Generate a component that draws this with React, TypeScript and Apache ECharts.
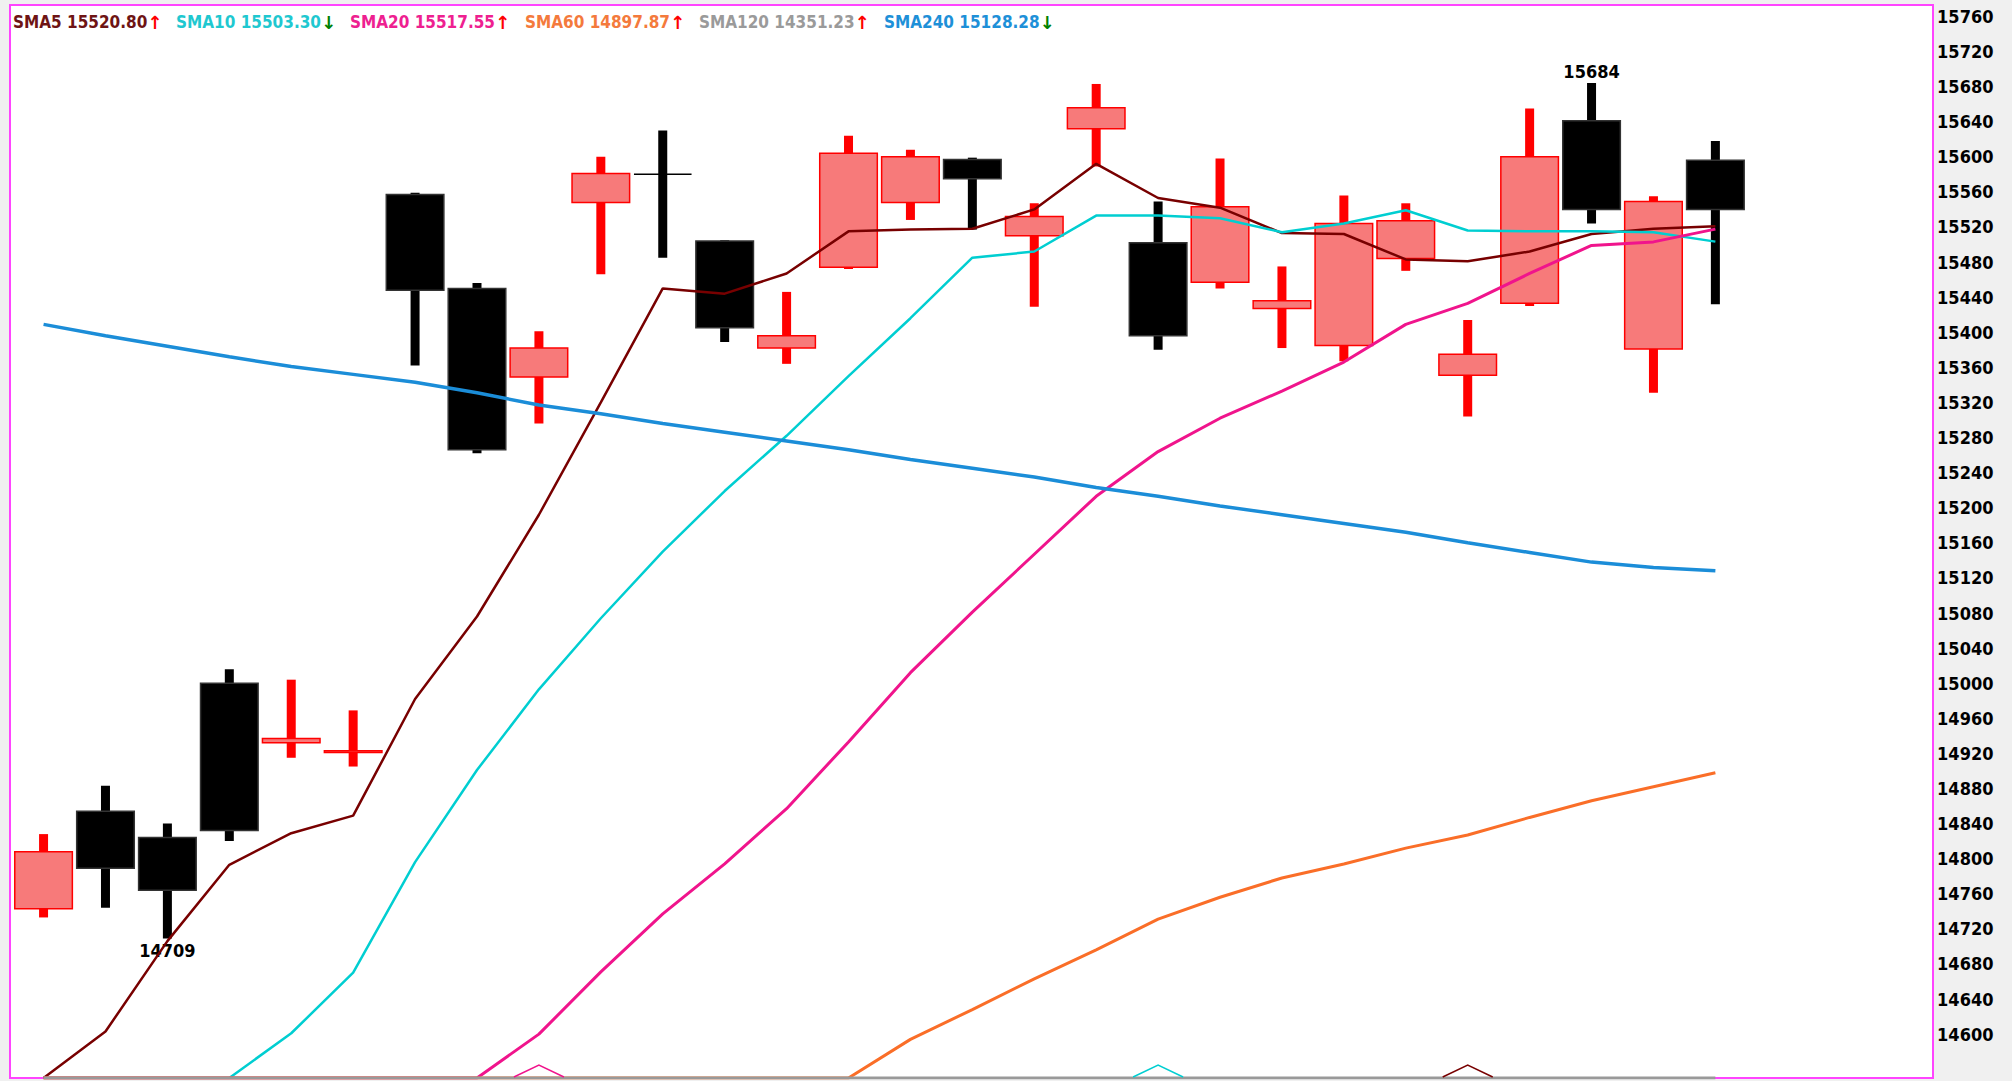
import React, { useEffect, useRef } from "react";
import * as echarts from "echarts";

// ---------- data ----------
const categories = [
  "1", "2", "3", "4", "5", "6", "7", "8", "9", "10", "11", "12", "13", "14", "15", "16",
  "17", "18", "19", "20", "21", "22", "23", "24", "25", "26", "27", "28", "29", "30", "31",
];

const openP = [14743, 14854, 14824, 15000, 14932, 14921, 15557, 15450, 15349, 15548, 15580, 15504, 15382, 15474, 15548, 15597, 15510, 15632, 15502, 15457, 15427, 15385, 15484, 15351, 15433, 15641, 15381, 15596];
const closeP = [14808, 14789, 14764, 14832, 14937, 14923, 15448, 15266, 15382, 15581, 15580, 15405, 15396, 15604, 15600, 15575, 15532, 15656, 15396, 15543, 15436, 15524, 15527, 15375, 15600, 15540, 15549, 15540];
const lowP = [14733, 14744, 14709, 14820, 14915, 14905, 15362, 15262, 15296, 15466, 15485, 15389, 15364, 15472, 15528, 15517, 15429, 15589, 15380, 15450, 15382, 15367, 15470, 15304, 15430, 15524, 15331, 15432];
const highP = [14828, 14883, 14840, 15016, 15004, 14969, 15559, 15456, 15401, 15600, 15630, 15505, 15446, 15624, 15608, 15599, 15547, 15683, 15549, 15598, 15475, 15556, 15547, 15414, 15655, 15684, 15555, 15618];

const sma5 = [14540, 14603, 14706, 14793, 14829, 14849, 14982, 15076, 15192, 15320, 15450, 15444, 15467, 15515, 15517, 15518, 15540, 15592, 15553, 15542, 15513, 15512, 15483, 15481, 15492, 15512, 15518, 15520.8];
const sma10 = [14440, 14470, 14505, 14548, 14601, 14670, 14796, 14901, 14993, 15074, 15150, 15219, 15282, 15350, 15416, 15485, 15492, 15533, 15533, 15530, 15514, 15524, 15539, 15516, 15515, 15515, 15514, 15503.3];
const sma20 = [14300, 14330, 14360, 14395, 14430, 14465, 14505, 14548, 14600, 14671, 14737, 14794, 14857, 14933, 15012, 15081, 15147, 15213, 15264, 15302, 15333, 15366, 15409, 15433, 15467, 15499, 15503, 15517.55];
const sma60 = [14200, 14225, 14250, 14275, 14300, 14325, 14350, 14380, 14410, 14440, 14470, 14495, 14520, 14548, 14594, 14628, 14663, 14696, 14731, 14756, 14778, 14794, 14812, 14827, 14847, 14866, 14882, 14897.87];
const sma120 = [14270, 14273, 14276, 14279, 14282, 14285, 14289, 14293, 14297, 14300, 14303, 14306, 14309, 14312, 14315, 14318, 14321, 14324, 14327, 14330, 14333, 14336, 14339, 14342, 14344, 14347, 14349, 14351.23];
const sma240 = [15409, 15396, 15384, 15372, 15361, 15352, 15343, 15331, 15317, 15307, 15296, 15286, 15276, 15266, 15255, 15245, 15235, 15223, 15213, 15202, 15192, 15182, 15172, 15160, 15149, 15138, 15132, 15128.28];

const yTickValues = [
  14600, 14640, 14680, 14720, 14760, 14800, 14840, 14880, 14920, 14960, 15000, 15040, 15080,
  15120, 15160, 15200, 15240, 15280, 15320, 15360, 15400, 15440, 15480, 15520, 15560, 15600,
  15640, 15680, 15720, 15760,
];

const legendNames = ["SMA5", "SMA10", "SMA20", "SMA60", "SMA120", "SMA240"];
const legendValues = ["15520.80", "15503.30", "15517.55", "14897.87", "14351.23", "15128.28"];
const legendTrend = ["up", "down", "up", "up", "up", "down"];

// bottom caret signals (category index)
const signalIdx = [8, 18, 23];

// ---------- styles ----------
const Y_MIN = 14550;
const Y_MAX = 15773;
const FONT = "'DejaVu Sans Condensed', 'Liberation Sans Narrow', sans-serif";
const lineColors = ["#780000", "#00CED1", "#F0148C", "#FA6E28", "#999999", "#1B8DD8"];
const legendColors = ["#6E1414", "#1FC8D0", "#EE2090", "#F47A3C", "#9A9A9A", "#1E90D8"];
const lineWidths = [2.5, 2.5, 3, 3, 3, 3.5];
const legendX = [13, 176, 350, 525, 699, 884];
const signalColors = ["#F0148C", "#00CED1", "#780000"];
const UP_FILL = "#F77A7A";
const UP_LINE = "#FF0000";
const DOWN = "#000000";

export default function App() {
  const ref = useRef<HTMLDivElement>(null);

  useEffect(() => {
    document.body.style.margin = "0";
    const el = ref.current!;
    const chart = echarts.init(el, null, { renderer: "svg" });

    const candleData = openP.map((o, i) => [i, o, closeP[i], lowP[i], highP[i]]);
    let maxIdx = 0;
    let minIdx = 0;
    highP.forEach((h, i) => { if (h > highP[maxIdx]) maxIdx = i; });
    lowP.forEach((l, i) => { if (l < lowP[minIdx]) minIdx = i; });

    const clamp = (arr: number[]) => arr.map((v) => Math.max(v, Y_MIN));
    const allSma = [sma5, sma10, sma20, sma60, sma120, sma240];
    // gray SMA120 drawn last so the clamped bottom line shows gray
    const smaOrder = [0, 1, 2, 3, 5, 4];

    const lineSeries = smaOrder.map((k) => ({
      name: legendNames[k],
      type: "line",
      data: clamp(allSma[k]),
      showSymbol: false,
      symbol: "none",
      clip: true,
      z: 3,
      lineStyle: { color: lineColors[k], width: lineWidths[k] },
      silent: true,
    }));

    const option: any = {
      animation: false,
      backgroundColor: "#F0F0F0",
      grid: { left: 12.6, top: 5, width: 1919.5, height: 1073, show: false },
      xAxis: {
        type: "category",
        data: categories,
        boundaryGap: true,
        show: false,
      },
      yAxis: {
        type: "value",
        position: "right",
        min: Y_MIN,
        max: Y_MAX,
        splitLine: { show: false },
        axisLine: { show: false },
        axisTick: { show: false },
        axisLabel: {
          customValues: yTickValues,
          formatter: (v: number) => String(v),
          color: "#000",
          fontWeight: "bold",
          fontFamily: FONT,
          fontSize: 18,
          margin: 5,
        },
      },
      graphic: [
        {
          type: "rect",
          z: -10,
          silent: true,
          shape: { x: 10, y: 5, width: 1923, height: 1073 },
          style: { fill: "#FFFFFF", stroke: "#FF44FF", lineWidth: 2 },
        },
        ...legendNames.map((n, i) => ({
          type: "text",
          x: legendX[i],
          y: 22,
          z: 10,
          silent: true,
          style: {
            text: `{n|${n} ${legendValues[i]}}{a|${legendTrend[i] === "up" ? "↑" : "↓"}}`,
            verticalAlign: "middle",
            rich: {
              n: { fill: legendColors[i], fontFamily: FONT, fontWeight: "bold", fontSize: 17 },
              a: {
                fill: legendTrend[i] === "up" ? "#FF0000" : "#008000",
                fontFamily: "DejaVu Sans",
                fontWeight: "bold",
                fontSize: 18,
              },
            },
          },
        })),
      ],
      series: [
        {
          name: "K",
          type: "custom",
          data: candleData,
          encode: { x: 0, y: [1, 2, 3, 4] },
          clip: true,
          z: 2,
          renderItem: (params: any, api: any) => {
            const i = api.value(0);
            const o = api.value(1);
            const c = api.value(2);
            const l = api.value(3);
            const h = api.value(4);
            const up = c > o;
            const pO = api.coord([i, o]);
            const pC = api.coord([i, c]);
            const pL = api.coord([i, l]);
            const pH = api.coord([i, h]);
            const band = api.size([1, 0])[0];
            const bw = band * 0.93;
            const ww = 9;
            const x = pO[0];
            const top = Math.min(pO[1], pC[1]);
            const bh = Math.abs(pO[1] - pC[1]);
            const children: any[] = [
              {
                type: "rect",
                shape: { x: x - ww / 2, y: pH[1], width: ww, height: pL[1] - pH[1] },
                style: { fill: up ? UP_LINE : DOWN },
              },
            ];
            if (bh < 0.5) {
              children.push({
                type: "rect",
                shape: { x: x - bw / 2, y: top - 0.75, width: bw, height: 1.5 },
                style: { fill: up ? UP_LINE : DOWN },
              });
            } else {
              children.push({
                type: "rect",
                shape: { x: x - bw / 2, y: top, width: bw, height: bh },
                style: {
                  fill: up ? UP_FILL : DOWN,
                  stroke: up ? UP_LINE : "#333333",
                  lineWidth: 1.5,
                },
              });
            }
            if (params.dataIndex === maxIdx) {
              children.push({
                type: "text",
                x: x,
                y: pH[1] - 3,
                style: {
                  text: String(h),
                  fill: "#000",
                  fontFamily: FONT,
                  fontWeight: "bold",
                  fontSize: 18,
                  align: "center",
                  verticalAlign: "bottom",
                },
              });
            }
            if (params.dataIndex === minIdx) {
              children.push({
                type: "text",
                x: x,
                y: pL[1] + 3,
                style: {
                  text: String(l),
                  fill: "#000",
                  fontFamily: FONT,
                  fontWeight: "bold",
                  fontSize: 18,
                  align: "center",
                  verticalAlign: "top",
                },
              });
            }
            return { type: "group", children };
          },
        },
        ...lineSeries,
        {
          name: "signal",
          type: "custom",
          data: signalIdx.map((s) => [s]),
          encode: { x: 0 },
          z: 4,
          clip: false,
          renderItem: (params: any, api: any) => {
            const i = api.value(0);
            const p = api.coord([i, Y_MIN]);
            const y = p[1] - 1;
            return {
              type: "polyline",
              shape: { points: [[p[0] - 25, y], [p[0], y - 12], [p[0] + 25, y]] },
              style: { stroke: signalColors[params.dataIndex], lineWidth: 1.5, fill: "none" },
            };
          },
        },
      ],
    };

    chart.setOption(option);
    return () => chart.dispose();
  }, []);

  return <div ref={ref} style={{ width: 2012, height: 1081, background: "#F0F0F0" }} />;
}
